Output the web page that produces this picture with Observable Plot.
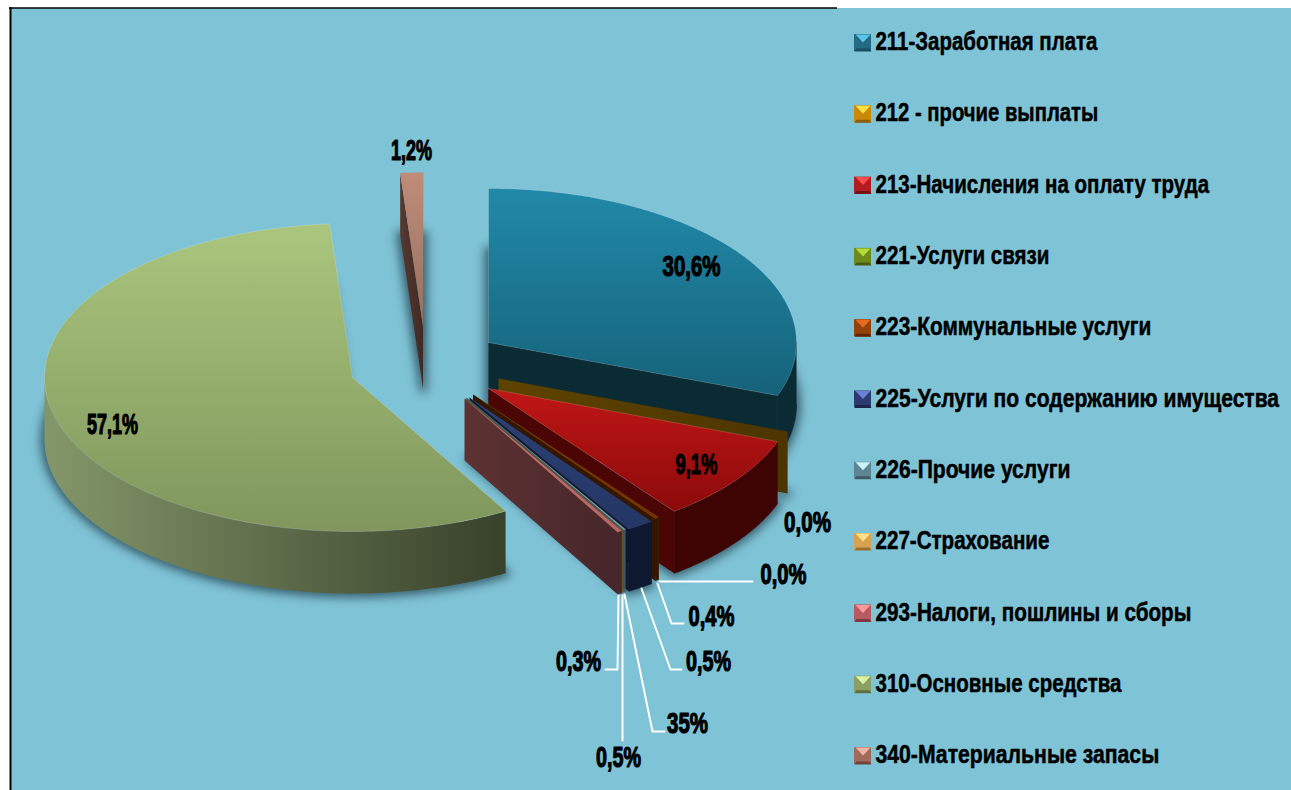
<!DOCTYPE html>
<html><head><meta charset="utf-8">
<style>html,body{margin:0;padding:0;background:#fff}svg{display:block}</style>
<script src="https://cdn.jsdelivr.net/npm/d3@7"></script>
<script src="https://cdn.jsdelivr.net/npm/@observablehq/plot@0.6"></script>
</head><body><div id="chart"></div>
<script>
// ---- data ----
const categories = ["211-Заработная плата","212 - прочие выплаты","213-Начисления на оплату труда","221-Услуги связи","223-Коммунальные услуги","225-Услуги по содержанию имущества","226-Прочие услуги","227-Страхование","293-Налоги, пошлины и сборы","310-Основные средства","340-Материальные запасы"];
const shares = [30.6,0,9.1,0,0.22,1.44,0.11,0,0.25,57.1,1.2];
const valueLabels = ["30,6%","0,0%","9,1%","0,0%","0,4%","0,5%","35%","0,5%","0,3%","57,1%","1,2%"];
// ---- colours ----
const topFrom  = ["#2189a8","#b07a00","#c01616","#7a9a20","#8a3a00","#2c4078","#86a9ae","#e0b060","#c87070","#aac67e","#c08c7a"];
const topTo    = ["#15627a","#b07a00","#8c0a0a","#7a9a20","#7a3000","#243664","#7a9aa0","#e0b060","#b86464","#80965c","#94705f"];
const wallCut  = ["#0a2a34","#5e4300","#4c0505","#3a4a10","#331500","#0e1830","#3f5a5e","#6a5020","#5e3232","#3a4326","#57392f"];
const wallCutTo= ["#0a2a34","#4c3500","#4c0505","#3a4a10","#331500","#0e1830","#3f5a5e","#6a5020","#45262a","#3a4326","#402a26"];
const wallOutFrom = ["#0a2a34","#4c3500","#3e0303","#3a4a10","#331500","#0e1830","#3f5a5e","#6a5020","#45262a","#84976a","#402a26"];
const wallOutTo   = ["#0a2a34","#4c3500","#3e0303","#3a4a10","#331500","#0e1830","#3f5a5e","#6a5020","#45262a","#38412a","#402a26"];
const swatchBase = ["#236a85","#c98a0a","#b01c22","#6f8a1c","#93420c","#2a3b70","#5d8593","#d9a250","#b85a62","#8a9f62","#a06a5c"];
const swatchLight= ["#58c4e6","#ffe040","#ff4a4a","#b4dc3c","#e86a20","#6a80d8","#c8f4fa","#ffe08a","#ff9a9a","#dcf0a4","#f0b4a4"];
const swatchDark = ["#184c60","#8a5c04","#741218","#4a5c10","#5e2806","#1a2548","#3c5a66","#9a7030","#7c3a40","#5e6e3e","#6c443a"];
// ---- layout of the exploded pie ----
const W = 1291, H = 790, RX = 308, RY = 154, DEPTH = 62;
const centerX = [488,498,488,472.5,472.5,469,466,465,464,352,422.5];
const centerY = [342,378,388,394,394,397,397,398,398,377,326];
const labelX = [691,807,696,783,711,708,687,618,578,112,411];
const labelY = [266,522,464,574,616,661,723,757,661,424,150];
const labelWidth = [58,47,42,46,46,45,41,45,45,51,41];
const legendWidth = [222,223,334,174,276,404,195,174,316,246,284];
const leaders = [
  [[659,581],[752,581]],
  [[657,583],[671,623],[683,623]],
  [[641,588],[670,669],[681,669]],
  [[624,594],[652,731],[664,731]],
  [[622,595],[622,740]],
  [[618,595],[617,669],[605,669]]
];
const legendTop = 41.5, legendStep = 71.3, swatchX = 854, swatchSize = 17, legendTextX = 875;
const SHADOW = "#1e3a48";

// ---- geometry from the shares ----
let acc = 0;
const slices = shares.map((v,i)=>{ const t0 = acc/100*360; acc += v; return {i,t0,t1:acc/100*360}; });
const rad = d=>d*Math.PI/180;
const pt = (i,t,z=0)=>({x:centerX[i]+RX*Math.sin(rad(t)), y:centerY[i]-RY*Math.cos(rad(t))+z});
const arc = (i,a,b,z=0)=>{ const n=Math.max(1,Math.ceil(Math.abs(b-a)*2)); return d3.range(n+1).map(k=>pt(i,a+(b-a)*k/n,z)); };
const apex = (i,z=0)=>({x:centerX[i],y:centerY[i]+z});
const topFace = s=>[apex(s.i),...arc(s.i,s.t0,s.t1),apex(s.i)];
const bottomFace = s=>[apex(s.i,DEPTH),...arc(s.i,s.t0,s.t1,DEPTH),apex(s.i,DEPTH)];
const radialWall = (s,t)=>[apex(s.i),pt(s.i,t),pt(s.i,t,DEPTH),apex(s.i,DEPTH),apex(s.i)];
const outerWall = s=>{ const a=Math.max(s.t0,90), b=Math.min(s.t1,270); if(b<=a) return null; return [...arc(s.i,a,b),...arc(s.i,b,a,DEPTH)]; };

const grad = (id,c0,c1,horizontal)=>{
  const g = d3.create("svg:linearGradient").attr("id",id).attr("x1",0).attr("y1",0).attr("x2",horizontal?1:0).attr("y2",horizontal?0:1);
  g.append("stop").attr("offset",0).attr("stop-color",c0);
  g.append("stop").attr("offset",1).attr("stop-color",c1);
  return g.node();
};
const defsMark = ()=>{
  const d = d3.create("svg:defs");
  slices.forEach(({i})=>{
    d.node().append(grad(`top${i}`,topFrom[i],topTo[i],false));
    d.node().append(grad(`cut${i}`,wallCut[i],wallCutTo[i],true));
    d.node().append(grad(`outr${i}`,wallOutFrom[i],wallOutTo[i],true));
  });
  return d.node();
};
const poly = (pts,o)=>Plot.line(pts,{x:"x",y:"y",stroke:"none",...o});

const marks = [
  defsMark,
  Plot.rect([{x1:11,x2:W,y1:8,y2:H}],{x1:"x1",x2:"x2",y1:"y1",y2:"y2",fill:"#7fc3d6"}),
  Plot.ruleX([10],{y1:7,y2:H,stroke:"#000",strokeWidth:2}),
  Plot.ruleY([7.5],{x1:9,x2:837,stroke:"#000",strokeWidth:1.5})
];
// shadows below the pie
slices.forEach(s=>{
  if (shares[s.i]<0.5 && s.i!==1) return;
  marks.push(poly(bottomFace(s),{fill:SHADOW,fillOpacity:0.6,stroke:SHADOW,strokeOpacity:0.6,strokeWidth:9}));
});
// faces in paint order
slices.forEach(s=>{
  const i=s.i;
  if (s.t1>0 && s.t1<180) marks.push(poly(radialWall(s,s.t1),{fill:`url(#cut${i})`}));
  if (s.t0>180) marks.push(poly(radialWall(s,s.t0),{fill:`url(#cut${i})`}));
  const ow = outerWall(s);
  if (ow) marks.push(poly(ow,{fill:i===9?`url(#outr${i})`:wallOutFrom[i],stroke:i===9?"none":wallOutFrom[i],strokeWidth:0.6}));
  if (shares[i]>0) marks.push(poly(topFace(s),{fill:`url(#top${i})`,stroke:shares[i]>5?"#ffffff":"none",strokeOpacity:0.16,strokeWidth:1}));
});
// leaders
leaders.forEach(l=>marks.push(Plot.line(l,{x:d=>d[0],y:d=>d[1],stroke:"#fff",strokeWidth:2,curve:"linear"})));
// value labels
const textStyle = {fontFamily:"'Liberation Sans',sans-serif",fontWeight:700,fill:"#000",stroke:"#000",textAnchor:"middle",frameAnchor:"middle"};
const labelRows = valueLabels.map((t,i)=>({t,x:labelX[i],y:labelY[i]}));
marks.push(Plot.text(labelRows,{x:"x",y:"y",text:"t",fontSize:29,strokeWidth:1.2,...textStyle}));
// legend
const rows = categories.map((t,i)=>({t,i,cy:legendTop+legendStep*i}));
rows.forEach(r=>{
  const x0=swatchX,x1=swatchX+swatchSize,y0=r.cy-7.5,y1=y0+swatchSize,mx=(x0+x1)/2,my=y0+8;
  marks.push(Plot.rect([r],{x1:()=>x0,x2:()=>x1,y1:()=>y0,y2:()=>y1,fill:swatchBase[r.i]}));
  marks.push(poly([{x:x0,y:y1},{x:x1,y:y1},{x:x1-2,y:y1-3},{x:x0+2,y:y1-3}],{fill:swatchDark[r.i]}));
  marks.push(poly([{x:x0+1,y:y0},{x:x1-1,y:y0},{x:mx,y:my}],{fill:swatchLight[r.i]}));
});
marks.push(Plot.text(rows,{x:()=>legendTextX,y:"cy",text:"t",fontSize:25.5,...textStyle,textAnchor:"start",strokeWidth:0.5}));

const chart = Plot.plot({
  width:W,height:H,margin:0,
  style:{background:"#fff"},
  x:{domain:[0,W],range:[0,W],axis:null},
  y:{domain:[0,H],range:[0,H],axis:null},
  marks
});
d3.select(chart).selectAll(`g[fill="${SHADOW}"]`).style("filter","blur(5px)");
document.getElementById("chart").append(chart);
// squeeze the text horizontally to the reference's condensed letterforms
const targets = [...labelWidth,...legendWidth];
d3.select(chart).selectAll("text").each(function(_,k){
  const f = targets[k]/this.getComputedTextLength();
  this.setAttribute("transform",`${this.getAttribute("transform")||""} scale(${f},1)`);
});
</script></body></html>
